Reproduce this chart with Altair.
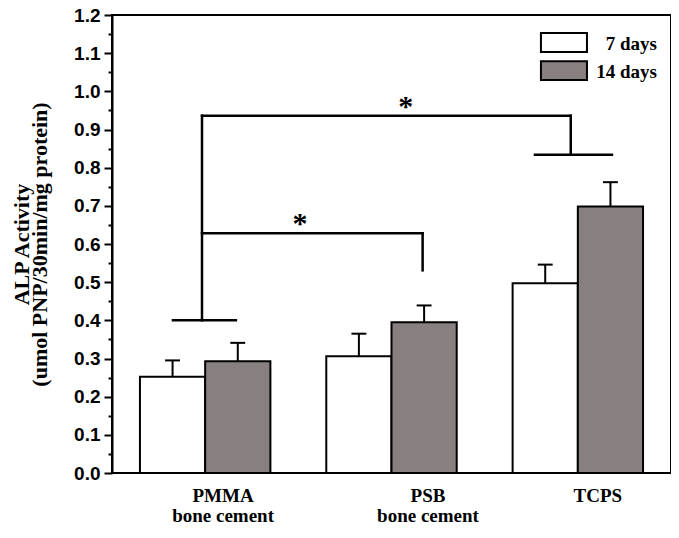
import altair as alt
import pandas as pd

# ---------------- data ----------------
categories = ["PMMA", "PSB", "TCPS"]
periods = ["7 days", "14 days"]
values_7 = [0.252, 0.306, 0.497]
values_14 = [0.293, 0.395, 0.698]
err_7 = [0.043, 0.059, 0.049]
err_14 = [0.048, 0.044, 0.064]
label_line1 = ["PMMA", "PSB", "TCPS"]
label_line2 = ["bone cement", "bone cement", ""]
label_x = [0.596, 1.696, 2.607]

# significance brackets: segments (x, y) -> (x2, y2) in category / ALP units
seg_x = [0.483, 0.327, 0.483, 2.462, 2.270, 0.483, 1.667]
seg_x2 = [0.483, 0.665, 2.462, 2.462, 2.683, 1.667, 1.667]
seg_y = [0.400, 0.400, 0.936, 0.834, 0.834, 0.628, 0.531]
seg_y2 = [0.936, 0.400, 0.936, 0.936, 0.834, 0.628, 0.628]
star_x = [1.576, 1.009]
star_y = [0.936, 0.628]

major_ticks = [0.0, 0.1, 0.2, 0.3, 0.4, 0.5, 0.6, 0.7, 0.8, 0.9, 1.0, 1.1, 1.2]
minor_ticks = [0.05, 0.15, 0.25, 0.35, 0.45, 0.55, 0.65, 0.75, 0.85, 0.95, 1.05, 1.15]

# legend placement (in chart units)
leg_box_x = [2.302, 2.549]
leg_box_y = [(1.153, 1.103), (1.079, 1.030)]
leg_text_x = 2.925
leg_text_y = [1.107, 1.035]

# ---------------- style ----------------
BAR_W = 0.35
CAP = 0.04
GRAY = "#877f80"
SERIF = "Liberation Serif"
SANS = "Liberation Sans"

rows = []
for i, cat in enumerate(categories):
    c = i + 0.5
    for p, vals, errs in (("7 days", values_7, err_7), ("14 days", values_14, err_14)):
        x0 = c - BAR_W if p == "7 days" else c
        x1 = x0 + BAR_W
        xm = (x0 + x1) / 2
        rows.append(dict(category=cat, period=p, x=x0, x2=x1, xm=xm,
                         cl=xm - CAP, cr=xm + CAP,
                         value=vals[i], top=vals[i] + errs[i]))
df = pd.DataFrame(rows)

seg_df = pd.DataFrame(dict(x=seg_x, x2=seg_x2, y=seg_y, y2=seg_y2))
star_df = pd.DataFrame(dict(x=star_x, y=star_y, t=["*"] * len(star_x)))
lab_df = pd.DataFrame(dict(
    x=label_x,
    t=[a + ("\n" + b if b else "") for a, b in zip(label_line1, label_line2)],
    y=[-0.0760] * 3,
))
leg_df = pd.DataFrame(dict(
    period=periods,
    x=[leg_box_x[0]] * 2, x2=[leg_box_x[1]] * 2,
    y=[b[0] for b in leg_box_y], y2=[b[1] for b in leg_box_y],
    tx=[leg_text_x] * 2, ty=leg_text_y,
))

xscale = alt.Scale(domain=[0, 3], nice=False, zero=False)
yscale = alt.Scale(domain=[0, 1.2], nice=False)
fscale = alt.Scale(domain=periods, range=["white", GRAY])

yaxis = alt.Axis(
    orient="left",
    values=major_ticks, format=".1f",
    tickSize=8, tickWidth=2, tickColor="black",
    domain=True, domainColor="black", domainWidth=2,
    grid=False,
    labelFont=SANS, labelFontWeight="bold", labelFontSize=19, labelColor="black",
    labelPadding=4,
    titleFont=SERIF, titleFontWeight="bold", titleFontSize=22, titleColor="black",
    titleAngle=270, titleAlign="center", titleBaseline="alphabetic",
    titleX=-84, titleY=229, titleLineHeight=18,
)
yaxis_minor = alt.Axis(
    orient="left", values=minor_ticks, labels=False, title=None,
    tickSize=4, tickWidth=2, tickColor="black", domain=False, grid=False,
)

base = alt.Chart(df)

bars = base.mark_bar(stroke="black", strokeWidth=2).encode(
    x=alt.X("x:Q", scale=xscale, axis=None),
    x2="x2:Q",
    y=alt.Y("value:Q", scale=yscale, axis=yaxis,
            title=["ALP Activity", "(umol PNP/30min/mg protein)"]),
    y2=alt.datum(0),
    fill=alt.Fill("period:N", scale=fscale, legend=None),
)

stems = base.mark_rule(color="black", strokeWidth=2).encode(
    x=alt.X("xm:Q", scale=xscale, axis=None),
    y=alt.Y("value:Q", scale=yscale, axis=yaxis_minor),
    y2="top:Q")
caps = base.mark_rule(color="black", strokeWidth=2).encode(
    x=alt.X("cl:Q", scale=xscale, axis=None), x2="cr:Q",
    y=alt.Y("top:Q", scale=yscale, axis=None))

segs = alt.Chart(seg_df).mark_rule(color="black", strokeWidth=2.5, strokeCap="square").encode(
    x=alt.X("x:Q", scale=xscale, axis=None), x2="x2:Q",
    y=alt.Y("y:Q", scale=yscale, axis=None), y2="y2:Q")

stars = alt.Chart(star_df).mark_text(
    font=SERIF, fontWeight="bold", fontSize=30, color="black",
    baseline="alphabetic", align="center", dy=0,
).encode(x=alt.X("x:Q", scale=xscale, axis=None),
         y=alt.Y("y:Q", scale=yscale, axis=None), text="t:N")

labels = alt.Chart(lab_df).mark_text(
    font=SERIF, fontWeight="bold", fontSize=19, color="black",
    baseline="alphabetic", align="center", lineBreak="\n", lineHeight=20,
).encode(x=alt.X("x:Q", scale=xscale, axis=None),
         y=alt.Y("y:Q", scale=yscale, axis=None), text="t:N")

leg_boxes = alt.Chart(leg_df).mark_rect(stroke="black", strokeWidth=2).encode(
    x=alt.X("x:Q", scale=xscale, axis=None), x2="x2:Q",
    y=alt.Y("y:Q", scale=yscale, axis=None), y2="y2:Q",
    fill=alt.Fill("period:N", scale=fscale, legend=None),
)
leg_text = alt.Chart(leg_df).mark_text(
    font=SERIF, fontWeight="bold", fontSize=19, color="black",
    baseline="alphabetic", align="right",
).encode(x=alt.X("tx:Q", scale=xscale, axis=None),
         y=alt.Y("ty:Q", scale=yscale, axis=None), text="period:N")

chart = alt.layer(stems, caps, bars, segs, stars, labels, leg_boxes, leg_text).resolve_axis(
    y="independent"
).properties(
    width=559, height=458,
    autosize=alt.AutoSizeParams(type="none"),
    padding={"left": 104, "top": 7, "right": 0, "bottom": 54},
).configure_view(stroke="black", strokeWidth=2)

chart.save("out.html", embed_options={"renderer": "svg", "actions": False})
